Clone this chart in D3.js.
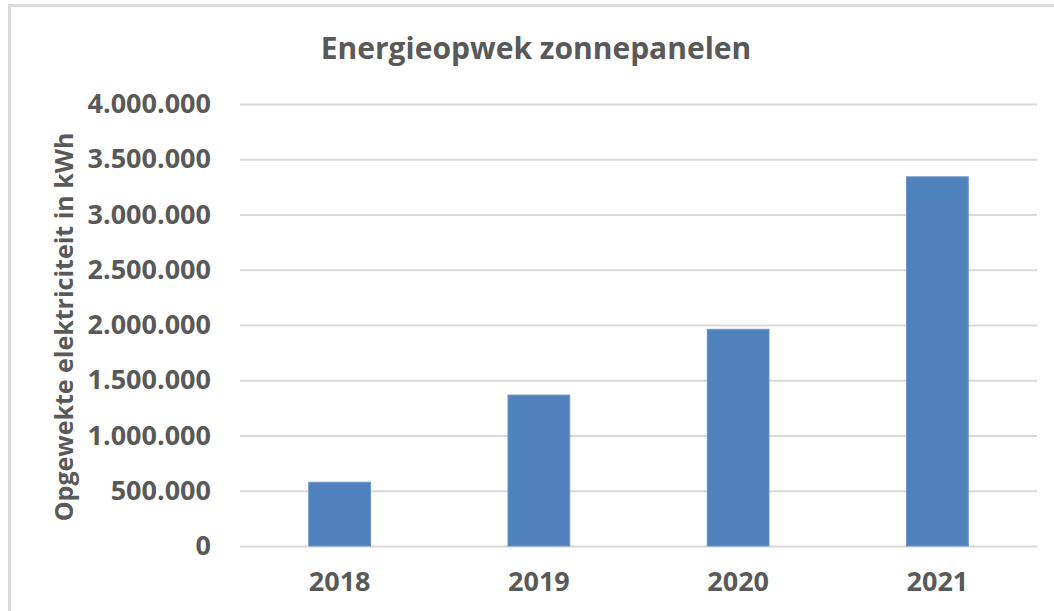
<!DOCTYPE html>
<html>
<head>
<meta charset="utf-8">
<script src="https://cdn.jsdelivr.net/npm/d3@7"></script>
<style>
  body { margin: 0; background: #fff; }
  text { font-family: "Open Sans", sans-serif; fill: #595959; font-weight: 700; }
</style>
</head>
<body>
<svg id="chart" width="1054" height="611"></svg>
<script>
const years = ['2018', '2019', '2020', '2021'];
const production = [577000, 1366000, 1961000, 3341000];
const yTicks = [0, 500000, 1000000, 1500000, 2000000, 2500000, 3000000, 3500000, 4000000];

const WIDTH = 1054, HEIGHT = 611;
const margin = { top: 104, right: 17, bottom: 65, left: 240 };

const svg = d3.select('#chart');

// chart frame (cut off at right/bottom like the screenshot)
svg.append('path')
  .attr('d', `M9.5,${HEIGHT} V5.5 H${WIDTH}`)
  .attr('fill', 'none')
  .attr('stroke', '#d9d9d9')
  .attr('stroke-width', 3);

const x = d3.scaleBand()
  .domain(years)
  .range([margin.left, WIDTH - margin.right])
  .paddingInner(0.69)
  .paddingOuter(0.345);

const y = d3.scaleLinear()
  .domain([0, 4000000])
  .range([HEIGHT - margin.bottom, margin.top]);

const fmt = v => d3.format(',')(v).replace(/,/g, '.');

// gridlines + y labels
const yAxis = svg.append('g')
  .attr('transform', `translate(${margin.left},0)`)
  .call(d3.axisLeft(y).tickValues(yTicks).tickFormat(fmt)
    .tickSize(-(WIDTH - margin.left - margin.right)).tickPadding(29));
yAxis.select('.domain').remove();
yAxis.selectAll('.tick line').attr('stroke', '#d9d9d9').attr('stroke-width', 2);
yAxis.selectAll('.tick text')
  .style('font-size', '27px')
  .attr('fill', '#595959');

// bars
svg.append('g').selectAll('rect')
  .data(years)
  .join('rect')
  .attr('x', d => x(d))
  .attr('y', (d, i) => y(production[i]))
  .attr('width', x.bandwidth())
  .attr('height', (d, i) => y(0) - y(production[i]))
  .attr('fill', '#4f81bd')
  .attr('stroke', '#6b95c9')
  .attr('stroke-width', 1);

// x labels
const xAxis = svg.append('g')
  .attr('transform', `translate(0,${y(0)})`)
  .call(d3.axisBottom(x).tickSize(0).tickPadding(26));
xAxis.select('.domain').remove();
xAxis.selectAll('.tick text')
  .style('font-size', '27px')
  .attr('fill', '#595959');

// title
svg.append('text')
  .attr('x', 536)
  .attr('y', 59)
  .attr('text-anchor', 'middle')
  .style('font-size', '30px')
  .text('Energieopwek zonnepanelen');

// y axis title
svg.append('text')
  .attr('transform', `translate(73,${(y(0) + y(4000000)) / 2 + 2}) rotate(-90)`)
  .attr('text-anchor', 'middle')
  .style('font-size', '25px')
  .text('Opgewekte elektriciteit in kWh');
</script>
</body>
</html>
